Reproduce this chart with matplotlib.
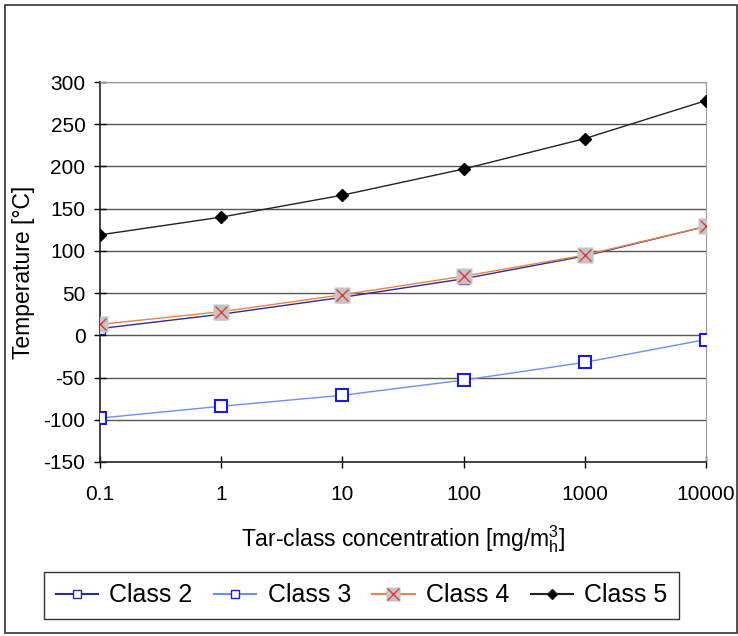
import matplotlib
matplotlib.use("Agg")
import matplotlib.pyplot as plt
from matplotlib.patches import Rectangle
from matplotlib.lines import Line2D
from matplotlib.legend_handler import HandlerTuple

plt.rcParams["font.family"] = ["Liberation Sans", "DejaVu Sans"]
plt.rcParams["axes.unicode_minus"] = False

# concentration (x) and dew-point temperatures per tar class
conc = [0.1, 1, 10, 100, 1000, 10000]
class2 = [8, 25, 45, 67, 94, 129]
class3 = [-98, -84, -71, -53, -32, -5]
class4 = [13, 28, 48, 70, 95, 129]
class5 = [119, 140, 166, 197, 233, 278]

y_ticks = [-150, -100, -50, 0, 50, 100, 150, 200, 250, 300]
x_ticks = [0.1, 1, 10, 100, 1000, 10000]
x_labels = ["0.1", "1", "10", "100", "1000", "10000"]

fig = plt.figure(figsize=(7.38, 6.36), dpi=100)
ax = fig.add_axes([0.1355, 0.2736, 0.821, 0.5974])

# outer frame around the whole chart
fig.patches.append(Rectangle((0.007, 0.004), 0.991, 0.988, transform=fig.transFigure,
                             fill=False, edgecolor="#333333", linewidth=1.2))

for yv in y_ticks[1:]:
    ax.axhline(yv, color="#555555", linewidth=1.0, zorder=1)

ax.plot(conc, class2, color="#2b2b9a", linewidth=1.0, marker="s", markersize=7,
        markerfacecolor="white", markeredgecolor="#2b2b9a", zorder=3)
ax.plot(conc, class3, color="#6f8ff0", linewidth=1.0, marker="s", markersize=8,
        markerfacecolor="white", markeredgecolor="#1a1ae6", markeredgewidth=1.5, zorder=3)
ax.plot(conc, class4, color="#f08040", linewidth=1.0, zorder=4)
ax.plot(conc, class4, linestyle="none", marker="s", markersize=11,
        markerfacecolor="#c4c4c4", markeredgecolor="none", zorder=5)
ax.plot(conc, class4, linestyle="none", marker="x", markersize=9,
        markeredgecolor="#e8383d", markeredgewidth=1.0, zorder=6)
ax.plot(conc, class5, color="#222222", linewidth=1.0, marker="D", markersize=6,
        markerfacecolor="black", markeredgecolor="black", zorder=4)

ax.set_xscale("log")
ax.set_xlim(0.1, 10000)
ax.set_ylim(-150, 300)
ax.set_xticks(x_ticks)
ax.set_xticklabels(x_labels)
ax.xaxis.set_minor_locator(matplotlib.ticker.NullLocator())
ax.set_yticks(y_ticks)
ax.tick_params(axis="both", direction="inout", length=9, width=1.0, labelsize=15)
ax.tick_params(axis="x", pad=12)
ax.tick_params(axis="y", pad=6)

for side in ["top", "right"]:
    ax.spines[side].set_color("#999999")
for side in ["left", "bottom"]:
    ax.spines[side].set_color("#222222")
    ax.spines[side].set_linewidth(1.2)

ax.set_ylabel("Temperature [°C]", fontsize=16.5, labelpad=6)
ax.set_xlabel(r"Tar-class concentration [mg/m$_\mathregular{h}^\mathregular{3}$]", fontsize=16.5, labelpad=14)

h2 = Line2D([], [], color="#2b2b9a", marker="s", markersize=6, markerfacecolor="white")
h3 = Line2D([], [], color="#6f8ff0", marker="s", markersize=6, markerfacecolor="white",
            markeredgecolor="#1a1ae6")
h4a = Line2D([], [], color="#f08040", marker="s", markersize=10, markerfacecolor="#c4c4c4",
             markeredgecolor="none")
h4b = Line2D([], [], linestyle="none", marker="x", markersize=8, markeredgecolor="#e8383d")
h5 = Line2D([], [], color="#222222", marker="D", markersize=5, markerfacecolor="black")

leg = fig.legend([h2, h3, (h4a, h4b), h5], ["Class 2", "Class 3", "Class 4", "Class 5"],
                 loc="center", bbox_to_anchor=(0.49, 0.064), ncol=4, fontsize=18,
                 frameon=True, fancybox=False, edgecolor="black", handlelength=1.7,
                 handletextpad=0.45, columnspacing=0.85, borderpad=0.45,
                 handler_map={tuple: HandlerTuple(ndivide=1)})
leg.get_frame().set_linewidth(1.0)

fig.savefig("out.png", dpi=100)
